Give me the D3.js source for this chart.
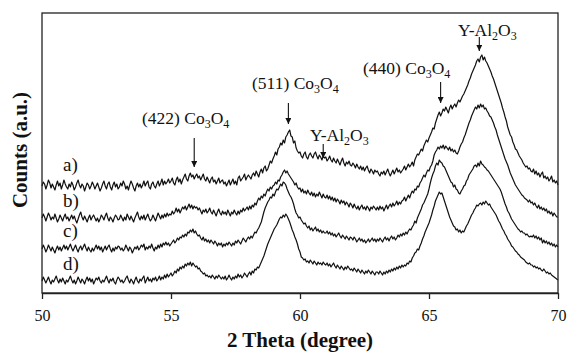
<!DOCTYPE html>
<html>
<head>
<meta charset="utf-8">
<script src="https://cdn.jsdelivr.net/npm/d3@7"></script>
<style>
  body { margin: 0; background: #fff; }
  svg { display: block; font-family: "Liberation Serif", "Times New Roman", serif; }
</style>
</head>
<body>
<svg id="chart"></svg>
<script>
// XRD patterns, 2 theta from 50 to 70 in 0.05 degree steps (one row = 1 degree)
const thetaStart = 50;
const thetaStep = 0.05;

const curveA = [
  107,111,109,104,108,113,110,105,109,106,103,108,112,107,110,104,108,113,109,106,
  104,109,106,111,108,103,106,110,113,108,105,109,107,102,106,110,108,104,107,111,
  108,104,107,110,106,102,105,109,112,107,104,109,111,106,103,108,111,106,109,104,
  106,110,107,112,109,104,107,103,108,112,109,105,102,107,110,106,109,105,108,112,
  107,110,112,106,104,109,111,107,105,109,112,107,110,114,108,112,109,111,114,110,
  112,115,110,108,113,116,111,114,109,113,116,119,114,112,117,120,116,118,114,117,
  119,115,117,113,116,119,114,112,116,113,110,114,116,111,113,109,112,115,110,112,
  113,109,111,107,110,113,108,111,114,109,112,108,115,117,112,114,116,119,113,116,
  118,116,114,118,120,117,122,119,116,121,124,120,125,127,122,124,128,132,130,134,
  137,141,138,144,146,150,148,153,150,156,158,161,163,157,156,150,152,145,142,140,
  141,137,135,139,141,136,134,138,140,137,135,139,141,137,134,138,136,133,137,135,
  136,132,134,137,133,131,135,132,130,134,131,128,132,135,130,127,131,129,132,128,
  127,130,128,125,129,126,124,127,123,126,122,125,127,123,120,124,122,119,123,121,
  122,119,117,121,119,122,118,121,124,120,117,120,123,119,122,125,121,123,120,122,
  124,127,123,126,129,126,128,131,127,133,136,139,138,141,144,142,147,150,153,151,
  155,158,161,165,164,170,174,178,181,177,180,184,182,186,183,180,185,188,184,187,
  189,186,190,193,191,194,197,199,202,205,208,212,215,219,222,225,228,232,234,231,
  236,238,233,236,232,230,227,224,221,217,214,210,206,202,198,194,190,185,181,176,
  172,166,162,158,156,151,148,144,143,140,137,135,133,130,128,126,127,124,125,122,
  121,124,119,122,118,120,116,119,121,115,117,114,116,112,114,117,111,113,110,112,
  108
];

const curveB = [
  75,79,76,72,76,80,77,73,76,74,79,75,71,74,78,75,72,76,79,74,
  76,72,75,78,74,77,73,70,74,78,81,76,73,77,74,71,75,78,73,76,
  78,75,72,75,71,74,78,76,73,77,80,75,72,76,74,71,75,78,76,73,
  74,78,75,72,76,73,79,76,73,77,74,71,75,78,81,76,73,77,74,78,
  73,76,79,75,72,74,78,75,72,76,80,77,74,78,75,79,76,80,77,79,
  78,82,79,81,85,81,84,80,83,86,84,87,83,86,89,85,88,84,87,85,
  86,83,85,82,79,83,81,84,80,82,85,81,79,83,80,77,81,84,80,78,
  82,79,81,78,83,80,77,81,79,83,80,78,82,79,83,81,85,82,84,86,
  83,87,84,88,86,90,88,92,95,93,97,95,99,97,101,104,102,106,104,107,
  108,111,109,113,112,116,118,121,123,120,122,119,117,115,113,111,108,110,106,104,
  105,101,104,100,102,99,103,100,98,101,97,100,96,99,97,101,98,95,99,96,
  95,98,94,97,93,96,92,95,91,94,92,89,93,90,92,88,91,89,86,90,
  88,85,89,86,84,87,83,86,88,84,86,83,87,85,82,86,84,87,85,83,
  86,83,87,84,86,82,85,88,84,87,89,86,90,87,89,92,88,91,89,92,
  93,96,92,95,98,95,99,102,100,104,103,107,106,110,112,115,118,116,120,123,
  122,126,128,132,138,141,143,146,144,147,145,148,144,147,145,143,146,142,144,141,
  143,140,139,142,146,149,151,155,158,162,166,170,173,177,180,183,186,184,188,185,
  189,186,188,184,185,182,180,177,176,173,170,166,163,158,154,150,146,142,138,134,
  131,128,124,120,117,114,111,108,106,104,102,100,98,97,95,94,93,91,93,90,
  91,88,90,87,85,88,84,86,83,85,82,84,80,82,79,81,77,80,78,76,
  76
];

const curveC = [
  44,48,45,41,44,48,45,42,46,43,40,44,47,43,46,42,45,48,44,47,
  43,46,49,45,42,45,48,44,41,45,47,43,46,49,45,42,46,43,41,45,
  42,45,48,44,47,43,46,41,44,47,43,46,48,44,41,45,42,46,44,47,
  46,43,45,42,44,48,45,42,46,44,40,43,46,44,47,43,45,48,46,49,
  43,46,44,47,45,49,45,42,46,44,48,45,49,46,50,48,51,48,50,47,
  49,51,53,50,52,55,53,56,55,58,56,59,57,61,60,63,61,64,60,62,
  59,57,58,55,53,56,52,54,51,53,50,53,51,49,52,50,47,50,48,50,
  46,49,47,50,48,51,49,47,50,48,52,50,53,51,49,52,55,53,51,54,
  56,54,57,55,58,61,60,63,65,68,71,76,81,85,88,91,93,96,95,99,
  97,101,104,103,106,109,107,111,110,108,104,101,98,96,93,89,84,80,78,75,
  76,73,71,69,70,67,65,67,63,65,62,64,66,62,64,61,63,60,62,60,
  60,62,59,61,58,60,57,59,56,58,60,57,55,58,56,54,57,55,53,56,
  55,53,56,54,51,53,55,52,54,51,53,50,52,54,51,53,55,52,54,51,
  54,52,55,53,51,54,56,53,55,52,55,57,54,56,53,55,58,56,59,57,
  60,58,61,59,62,64,63,66,68,72,70,75,78,81,84,88,90,93,96,99,
  104,110,115,119,122,127,130,128,133,131,130,127,126,123,120,117,114,111,110,106,
  108,104,103,100,99,102,104,107,108,112,114,118,120,122,124,127,128,126,130,127,
  132,129,128,126,125,123,122,120,118,116,114,112,110,108,106,104,101,97,93,89,
  86,82,80,77,74,72,70,68,66,64,63,61,62,60,60,58,59,57,56,57,
  56,58,55,57,54,56,53,55,50,53,50,52,49,51,48,50,47,49,46,48,
  46
];

const curveD = [
  12,16,13,10,13,16,12,9,13,11,14,17,13,10,14,11,15,12,9,13,
  11,14,17,13,10,13,9,12,16,13,10,14,12,9,13,16,12,15,11,14,
  9,12,15,13,16,12,10,13,11,14,17,13,10,14,12,15,11,9,13,16,
  14,11,13,10,12,15,17,13,10,14,12,9,13,16,12,10,14,12,15,17,
  10,13,16,12,14,11,15,13,16,12,14,17,13,16,14,18,15,19,16,18,
  20,17,19,22,20,24,22,26,24,27,25,29,27,30,28,31,27,30,28,26,
  27,24,25,22,21,19,20,17,18,16,17,15,18,16,14,17,15,18,16,14,
  16,14,17,13,15,18,15,13,16,14,17,15,19,16,18,15,17,20,18,16,
  19,21,18,22,20,24,23,26,25,28,31,34,37,41,45,49,52,55,58,61,
  64,66,68,71,74,76,75,78,76,79,77,74,71,67,63,60,56,53,49,44,
  41,36,35,33,34,31,32,30,33,31,29,32,30,28,31,29,30,28,31,29,
  28,30,27,29,26,28,30,27,25,28,26,24,27,25,23,26,24,27,25,23,
  24,22,25,23,21,24,22,20,23,21,19,22,20,23,21,19,22,20,18,21,
  21,19,22,20,18,21,19,22,20,23,21,24,22,25,23,26,24,27,25,28,
  26,28,27,30,29,32,31,35,37,40,41,44,43,47,50,54,57,61,64,67,
  70,74,78,83,87,92,95,98,101,99,100,96,92,88,84,80,76,73,70,67,
  66,63,64,61,63,60,62,61,64,67,69,72,75,78,80,83,85,88,87,89,
  90,88,91,89,92,90,88,89,86,84,82,80,78,75,72,70,67,64,62,59,
  57,54,52,50,47,46,44,42,41,39,38,36,35,34,33,31,30,29,30,28,
  28,26,27,25,26,24,25,23,22,24,22,20,21,19,20,18,17,16,15,14,
  13
];

const curves = [curveA, curveB, curveC, curveD];
const curveLabels = ["a)", "b)", "c)", "d)"];
const labelY = [171, 207, 237, 270];

const xTicks = [50, 55, 60, 65, 70];

// peak annotations: text parts [text, isSubscript], arrow at theta
const annotations = [
  { parts: [["(422) Co", 0], ["3", 1], ["O", 0], ["4", 1]], tx: 142, ty: 124, ax: 55.9, y1: 138, y2: 167 },
  { parts: [["(511) Co", 0], ["3", 1], ["O", 0], ["4", 1]], tx: 252, ty: 89, ax: 59.55, y1: 103, y2: 124 },
  { parts: [["Y-Al", 0], ["2", 1], ["O", 0], ["3", 1]], tx: 310, ty: 141, ax: 60.9, y1: 144, y2: 158 },
  { parts: [["(440) Co", 0], ["3", 1], ["O", 0], ["4", 1]], tx: 363, ty: 74, ax: 65.45, y1: 82, y2: 103 },
  { parts: [["Y-Al", 0], ["2", 1], ["O", 0], ["3", 1]], tx: 458, ty: 36, ax: 66.95, y1: 37, y2: 51 }
];

// Constants
const width = 569;
const height = 352;
const margin = { top: 13, right: 11, bottom: 59, left: 42 };
const plotBottom = height - margin.bottom;
const plotRight = width - margin.right;

// Scales
const xScale = d3.scaleLinear()
    .domain([50, 70])
    .range([margin.left, plotRight]);

const yScale = d3.scaleLinear()
    .domain([0, 280])
    .range([plotBottom, margin.top]);

const svg = d3.select("#chart")
    .attr("width", width)
    .attr("height", height);

// Curves
const line = d3.line()
    .x((d, i) => xScale(thetaStart + i * thetaStep))
    .y(d => yScale(d));

svg.append("g")
  .selectAll("path")
  .data(curves)
  .enter()
    .append("path")
    .attr("d", line)
    .attr("fill", "none")
    .attr("stroke", "#111")
    .attr("stroke-width", 1.2)
    .attr("stroke-linejoin", "round");

// Frame
svg.append("rect")
    .attr("x", margin.left)
    .attr("y", margin.top)
    .attr("width", plotRight - margin.left)
    .attr("height", plotBottom - margin.top)
    .attr("fill", "none")
    .attr("stroke", "#222")
    .attr("stroke-width", 1.3);

// X axis
const xAxis = d3.axisBottom(xScale)
    .tickValues(xTicks)
    .tickSize(6)
    .tickSizeOuter(0)
    .tickPadding(11);

const gx = svg.append("g")
    .attr("transform", `translate(0,${plotBottom})`)
    .call(xAxis);

gx.select(".domain").attr("stroke", "#222").attr("stroke-width", 1.3);
gx.selectAll(".tick line").attr("stroke", "#222").attr("stroke-width", 1.3);
gx.selectAll(".tick text")
    .attr("fill", "#111")
    .style("font-family", "'Liberation Serif', serif")
    .style("font-size", "16px");

svg.append("text")
    .attr("x", (margin.left + plotRight) / 2)
    .attr("y", 347)
    .style("text-anchor", "middle")
    .style("font-weight", "bold")
    .style("font-size", "21px")
    .attr("fill", "#111")
    .text("2 Theta (degree)");

svg.append("text")
    .attr("transform", "translate(27,150) rotate(-90)")
    .style("text-anchor", "middle")
    .style("font-weight", "bold")
    .style("font-size", "21px")
    .attr("fill", "#111")
    .text("Counts (a.u.)");

// Curve labels
svg.append("g")
  .selectAll("text")
  .data(curveLabels)
  .enter()
    .append("text")
    .attr("x", 63)
    .attr("y", (d, i) => labelY[i])
    .style("font-size", "19px")
    .attr("fill", "#111")
    .text(d => d);

// Arrowhead
svg.append("defs").append("marker")
    .attr("id", "head")
    .attr("viewBox", "0 0 10 10")
    .attr("refX", 10)
    .attr("refY", 5)
    .attr("markerUnits", "userSpaceOnUse")
    .attr("markerWidth", 7)
    .attr("markerHeight", 6)
    .attr("orient", "auto")
  .append("path")
    .attr("d", "M0,0 L10,5 L0,10 Z")
    .attr("fill", "#111");

const ann = svg.append("g");
annotations.forEach(a => {
  const t = ann.append("text")
      .attr("x", a.tx)
      .attr("y", a.ty)
      .style("font-size", "17.5px")
      .attr("fill", "#111");
  let shifted = false;
  a.parts.forEach(([s, sub]) => {
    const ts = t.append("tspan").text(s);
    if (sub) {
      ts.attr("dy", 4).style("font-size", "12px");
      shifted = true;
    } else if (shifted) {
      ts.attr("dy", -4);
      shifted = false;
    }
  });
  ann.append("line")
      .attr("x1", xScale(a.ax))
      .attr("x2", xScale(a.ax))
      .attr("y1", a.y1)
      .attr("y2", a.y2)
      .attr("stroke", "#111")
      .attr("stroke-width", 1.1)
      .attr("marker-end", "url(#head)");
});
</script>
</body>
</html>
